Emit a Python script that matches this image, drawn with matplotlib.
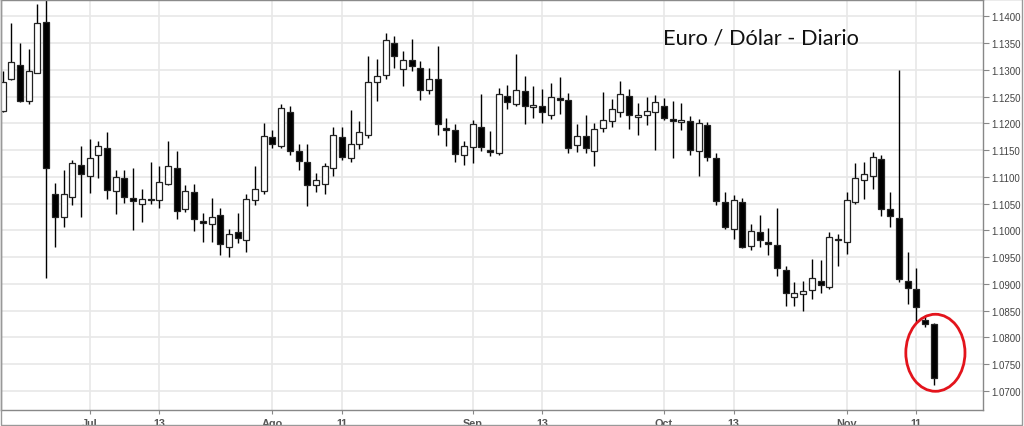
import matplotlib
matplotlib.use("Agg")
import matplotlib.pyplot as plt
from matplotlib import patches

# daily EUR/USD candles (June - November)
opens = [1.1224, 1.1282, 1.1310, 1.1241, 1.1295, 1.1390, 1.1068, 1.1024, 1.1063, 1.1123,
         1.1102, 1.1140, 1.1153, 1.1073, 1.1097, 1.1060, 1.1050, 1.1058, 1.1057, 1.1087,
         1.1116, 1.1039, 1.1072, 1.1017, 1.1011, 1.1028, 1.0968, 1.0996, 1.0982, 1.1056,
         1.1073, 1.1174, 1.1158, 1.1222, 1.1148, 1.1128, 1.1085, 1.1087, 1.1116, 1.1174,
         1.1136, 1.1161, 1.1179, 1.1277, 1.1291, 1.1351, 1.1301, 1.1318, 1.1303, 1.1263,
         1.1282, 1.1192, 1.1187, 1.1141, 1.1155, 1.1194, 1.1150, 1.1144, 1.1252, 1.1237,
         1.1260, 1.1230, 1.1232, 1.1216, 1.1247, 1.1243, 1.1160, 1.1177, 1.1148, 1.1192,
         1.1205, 1.1221, 1.1251, 1.1211, 1.1215, 1.1222, 1.1232, 1.1209, 1.1202, 1.1204,
         1.1149, 1.1196, 1.1135, 1.1052, 1.1003, 1.1053, 1.0971, 1.0997, 1.0979, 1.0972,
         1.0926, 1.0876, 1.0880, 1.0888, 1.0905, 1.0894, 1.0984, 1.0979, 1.1053, 1.1095,
         1.1102, 1.1134, 1.1039, 1.1023, 1.0906, 1.0891, 1.0832, 1.0824]
closes = [1.1277, 1.1314, 1.1242, 1.1297, 1.1388, 1.1116, 1.1025, 1.1067, 1.1126, 1.1106,
          1.1136, 1.1157, 1.1076, 1.1099, 1.1063, 1.1055, 1.1058, 1.1056, 1.1090, 1.1121,
          1.1036, 1.1073, 1.1022, 1.1014, 1.1024, 1.0974, 1.0994, 1.0986, 1.1058, 1.1077,
          1.1176, 1.1161, 1.1228, 1.1149, 1.1129, 1.1085, 1.1094, 1.1120, 1.1178, 1.1138,
          1.1161, 1.1183, 1.1278, 1.1288, 1.1355, 1.1325, 1.1318, 1.1307, 1.1263, 1.1283,
          1.1198, 1.1188, 1.1143, 1.1158, 1.1198, 1.1156, 1.1147, 1.1255, 1.1239, 1.1262,
          1.1232, 1.1234, 1.1221, 1.1250, 1.1244, 1.1154, 1.1176, 1.1154, 1.1189, 1.1207,
          1.1226, 1.1254, 1.1215, 1.1216, 1.1224, 1.1240, 1.1210, 1.1204, 1.1206, 1.1151,
          1.1200, 1.1138, 1.1054, 1.1007, 1.1057, 1.0969, 1.0999, 1.0981, 1.0974, 1.0930,
          1.0883, 1.0882, 1.0887, 1.0910, 1.0897, 1.0987, 1.0981, 1.1057, 1.1097, 1.1106,
          1.1138, 1.1039, 1.1026, 1.0909, 1.0892, 1.0856, 1.0824, 1.0724]
highs = [1.1298, 1.1387, 1.1351, 1.1339, 1.1424, 1.1435, 1.1088, 1.1113, 1.1132, 1.1157,
         1.1170, 1.1167, 1.1184, 1.1112, 1.1112, 1.1116, 1.1077, 1.1128, 1.1121, 1.1167,
         1.1149, 1.1085, 1.1086, 1.1032, 1.1060, 1.1041, 1.1003, 1.1032, 1.1067, 1.1120,
         1.1201, 1.1187, 1.1236, 1.1233, 1.1162, 1.1162, 1.1108, 1.1126, 1.1194, 1.1194,
         1.1225, 1.1204, 1.1325, 1.1320, 1.1369, 1.1364, 1.1336, 1.1358, 1.1317, 1.1303,
         1.1345, 1.1210, 1.1199, 1.1167, 1.1207, 1.1254, 1.1186, 1.1267, 1.1271, 1.1330,
         1.1288, 1.1270, 1.1264, 1.1275, 1.1287, 1.1256, 1.1199, 1.1216, 1.1201, 1.1258,
         1.1245, 1.1280, 1.1264, 1.1238, 1.1250, 1.1253, 1.1247, 1.1241, 1.1238, 1.1214,
         1.1208, 1.1202, 1.1145, 1.1072, 1.1066, 1.1061, 1.1011, 1.1029, 1.1004, 1.1042,
         1.0933, 1.0903, 1.0906, 1.0947, 1.0945, 1.0996, 1.0994, 1.1072, 1.1126, 1.1128,
         1.1146, 1.1141, 1.1071, 1.1300, 1.0959, 1.0930, 1.0842, 1.0827]
lows = [1.1221, 1.1281, 1.1240, 1.1236, 1.1295, 1.0910, 1.0969, 1.1007, 1.1047, 1.1024,
        1.1070, 1.1097, 1.1059, 1.1030, 1.1051, 1.1000, 1.1015, 1.1049, 1.1042, 1.1085,
        1.1022, 1.1035, 1.0998, 1.0979, 1.0979, 1.0953, 1.0951, 1.0976, 1.0959, 1.1047,
        1.1067, 1.1154, 1.1153, 1.1140, 1.1113, 1.1045, 1.1071, 1.1068, 1.1102, 1.1132,
        1.1128, 1.1152, 1.1173, 1.1241, 1.1282, 1.1303, 1.1270, 1.1298, 1.1244, 1.1255,
        1.1178, 1.1158, 1.1128, 1.1122, 1.1126, 1.1149, 1.1139, 1.1140, 1.1227, 1.1233,
        1.1198, 1.1210, 1.1201, 1.1208, 1.1218, 1.1144, 1.1147, 1.1145, 1.1120, 1.1183,
        1.1193, 1.1212, 1.1190, 1.1179, 1.1197, 1.1151, 1.1206, 1.1135, 1.1188, 1.1140,
        1.1102, 1.1129, 1.1048, 1.1002, 1.0984, 1.0966, 1.0963, 1.0968, 1.0954, 1.0915,
        1.0858, 1.0858, 1.0850, 1.0872, 1.0882, 1.0890, 1.0934, 1.0956, 1.1050, 1.1058,
        1.1077, 1.1027, 1.1006, 1.0904, 1.0863, 1.0828, 1.0819, 1.0710]

date_ticks = [10, 18, 31, 39, 54, 62, 76, 84, 97, 105]
date_labels = ["Jul", "13", "Ago", "11", "Sep", "13", "Oct", "13", "Nov", "11"]
price_ticks = [1.0700, 1.0750, 1.0800, 1.0850, 1.0900, 1.0950, 1.1000, 1.1050,
               1.1100, 1.1150, 1.1200, 1.1250, 1.1300, 1.1350, 1.1400]

title = "Euro / Dólar - Diario"

fig = plt.figure(figsize=(10.24, 4.27), dpi=100)
ax = fig.add_axes([0.0005, 0.0386, 0.9592, 0.960])

x = list(range(len(opens)))
ax.vlines(x, lows, highs, color="black", linewidth=1, zorder=2)

bottoms = [min(o, c) for o, c in zip(opens, closes)]
heights = [max(abs(c - o), 0.00005) for o, c in zip(opens, closes)]
faces = ["white" if c >= o else "black" for o, c in zip(opens, closes)]
ax.bar(x, heights, bottom=bottoms, width=0.69, color=faces,
       edgecolor="#222222", linewidth=0.9, zorder=3)

# highlight the last candle
ax.add_patch(patches.Ellipse((107.2, 1.0771), width=6.8, height=0.0144,
                             fill=False, edgecolor="#e3141c", linewidth=2, zorder=4))

ax.text(0.674, 0.908, title, transform=ax.transAxes, fontsize=15.7,
        family=["Lato", "DejaVu Sans"], color="#111111", va="center", ha="left")

ax.set_xlim(-0.25, 112.64)
ax.set_ylim(1.06649, 1.14314)

ax.set_xticks(date_ticks)
ax.set_xticklabels(date_labels, fontsize=7.8, fontweight="bold", color="#555555",
                   family="Liberation Sans")
ax.yaxis.tick_right()
ax.set_yticks(price_ticks)
ax.set_yticklabels(["%.4f" % p for p in price_ticks], fontsize=7, color="#444444",
                   family="Liberation Sans")
ax.tick_params(axis="x", length=3, width=0.8, color="#888888", pad=3)
ax.tick_params(axis="y", length=4, width=0.8, color="#888888", pad=2)

ax.grid(True, color="#e8e8e8", linewidth=1.2, zorder=0)
ax.set_axisbelow(True)
for spine in ax.spines.values():
    spine.set_color("#888888")
    spine.set_linewidth(1)

# outer frame of the picture
fig.patches.append(patches.Rectangle((0.0005, 0.002), 0.9975, 0.997, transform=fig.transFigure,
                                     fill=False, edgecolor="#999999", linewidth=1))

fig.savefig("out.png", dpi=100)
